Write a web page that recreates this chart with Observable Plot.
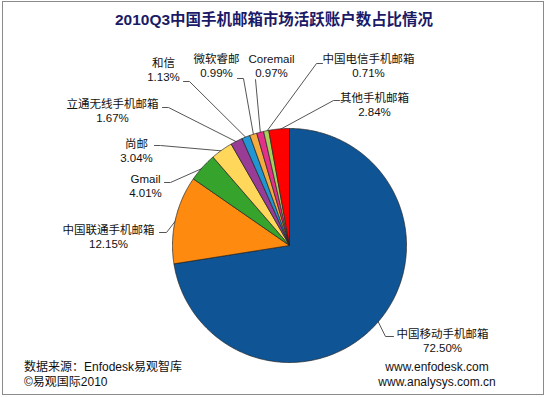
<!DOCTYPE html>
<html><head><meta charset="utf-8">
<script src="https://cdn.jsdelivr.net/npm/d3@7"></script>
<script src="https://cdn.jsdelivr.net/npm/@observablehq/plot@0.6"></script>
<style>
html,body{margin:0;padding:0;background:#fff;}
#wrap{position:relative;width:548px;height:397px;overflow:hidden;font-family:"Liberation Sans","Noto Sans CJK SC",sans-serif;}
#frame{position:absolute;left:2px;top:1px;width:542px;height:394px;border:1px solid #8a8a8a;box-sizing:border-box;}
#title{position:absolute;left:0;width:548px;top:10px;text-align:center;font-weight:bold;font-size:15px;color:#1a1a66;line-height:20px;}
#title span{display:inline-block;white-space:nowrap;}
.foot{position:absolute;font-size:12px;color:#111;line-height:15px;}
#chart{position:absolute;left:0;top:0;}
</style></head>
<body><div id="wrap">
<div id="frame"></div>
<div id="chart"></div>
<div id="title"><span id="tspan">2010Q3中国手机邮箱市场活跃账户数占比情况</span></div>
<div class="foot" style="left:24px;top:360px;">数据来源：Enfodesk易观智库<br>©易观国际2010</div>
<div class="foot" style="left:377px;width:120px;top:360px;text-align:center;">www.enfodesk.com<br>www.analysys.com.cn</div>
</div>
<script>
const names = ["中国移动手机邮箱","中国联通手机邮箱","Gmail","尚邮","立通无线手机邮箱","和信","微软睿邮","Coremail","中国电信手机邮箱","其他手机邮箱"];
const shares = [72.50, 12.15, 4.01, 3.04, 1.67, 1.13, 0.99, 0.97, 0.71, 2.84];
const colors = ["#0f5596","#ff8a10","#36a32c","#ffd75a","#983c96","#2196d2","#f4ad3c","#e3308a","#a9d05a","#ff0000"];

// layout (pixels): label block centre, elbow and tick end of the leader line
const layout = {
  "中国移动手机邮箱": {lx:442, ly:340, ex:385, ey:336, tx:393, ty:336},
  "中国联通手机邮箱": {lx:108, ly:236, ex:166, ey:232, tx:159, ty:232},
  "Gmail":          {lx:145, ly:185, ex:170, ey:182, tx:164, ty:182},
  "尚邮":            {lx:136, ly:150, ex:160, ey:145, tx:154, ty:145},
  "立通无线手机邮箱": {lx:112, ly:110, ex:168, ey:107, tx:162, ty:107},
  "和信":            {lx:163, ly:69,  ex:189, ey:81,  tx:183, ty:81},
  "微软睿邮":        {lx:216, ly:65,  ex:243, ey:78,  tx:237, ty:78},
  "Coremail":       {lx:271, ly:65,  ex:255, ey:79,  tx:255, ty:79},
  "中国电信手机邮箱": {lx:368, ly:65,  ex:316, ey:63,  tx:322, ty:63},
  "其他手机邮箱":    {lx:374, ly:104, ex:333, ey:100, tx:339, ty:100}
};
const cx = 289, cy = 245, R = 117;

const total = d3.sum(shares);
let acc = 0;
const slices = names.map((n, i) => {
  const a0 = acc / total * 2 * Math.PI;
  acc += shares[i];
  const a1 = acc / total * 2 * Math.PI;
  return {name: n, value: shares[i], color: colors[i], a0, a1, mid: (a0 + a1) / 2};
});
const pt = (a, r) => [cx + r * Math.sin(a), cy - r * Math.cos(a)];

const polyPts = [];
for (const s of slices) {
  polyPts.push({name: s.name, x: cx, y: cy});
  const n = Math.max(2, Math.ceil((s.a1 - s.a0) / 0.01));
  for (let k = 0; k <= n; k++) {
    const [x, y] = pt(s.a0 + (s.a1 - s.a0) * k / n, R);
    polyPts.push({name: s.name, x, y});
  }
  polyPts.push({name: s.name, x: cx, y: cy});
}
const colorOf = Object.fromEntries(slices.map(s => [s.name, s.color]));

const leaderPts = [];
for (const s of slices) {
  const L = layout[s.name];
  const [x, y] = pt(s.mid, R - 1);
  leaderPts.push({name: s.name, x, y}, {name: s.name, x: L.ex, y: L.ey}, {name: s.name, x: L.tx, y: L.ty});
}
const labels = slices.map(s => ({name: s.name, x: layout[s.name].lx, y: layout[s.name].ly,
  text: s.name + "\n" + s.value.toFixed(2) + "%"}));

const plot = Plot.plot({
  width: 548, height: 397,
  margin: 0,
  x: {domain: [0, 548], range: [0, 548], axis: null},
  y: {domain: [0, 397], range: [0, 397], axis: null},
  style: {background: "transparent", fontFamily: '"Liberation Sans","Noto Sans CJK SC",sans-serif'},
  marks: [
    Plot.line(leaderPts, {x: "x", y: "y", z: "name", stroke: "#555", strokeWidth: 1, curve: "linear"}),
    Plot.line(polyPts, {x: "x", y: "y", z: "name", fill: d => colorOf[d.name], stroke: "#222", strokeWidth: 0.7, strokeLinejoin: "round", curve: "linear"}),
    Plot.text(labels, {x: "x", y: "y", text: "text", fontSize: 11.5, fill: "#111", lineAnchor: "middle", lineHeight: 1.25, textAnchor: "middle"})
  ]
});
document.getElementById("chart").appendChild(plot);

// fit the title to the reference width (~318px)
const ts = document.getElementById("tspan");
const w = ts.getBoundingClientRect().width;
if (w > 0) document.getElementById("title").style.fontSize = (15 * 318 / w).toFixed(2) + "px";
</script>
</body></html>
